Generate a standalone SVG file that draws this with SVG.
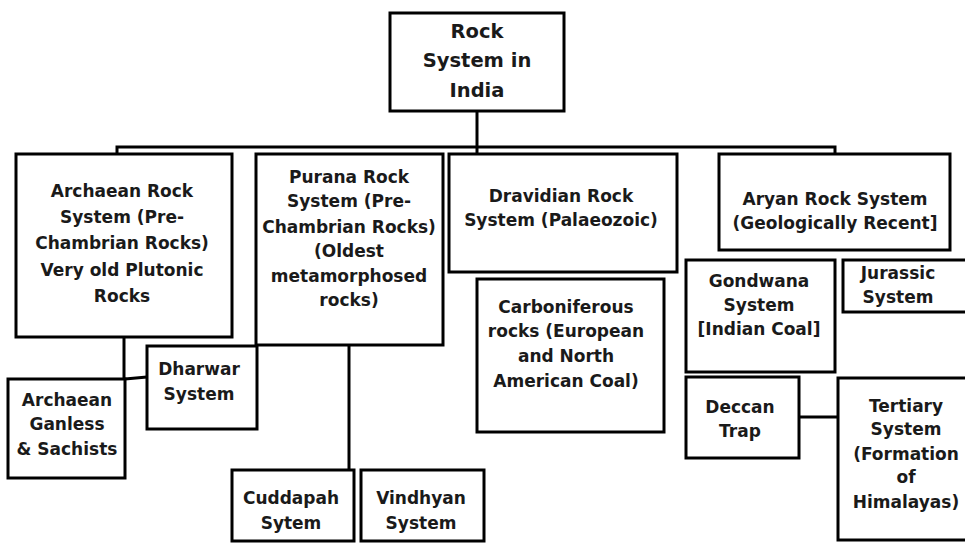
<svg xmlns="http://www.w3.org/2000/svg" width="965" height="543" viewBox="0 0 965 543">
<style>
rect{fill:#fff;stroke:#000;stroke-width:3}
.c line,.c polyline{stroke:#000;stroke-width:3;fill:none}
text{font-family:"DejaVu Sans","Liberation Sans",sans-serif;font-weight:bold;font-size:17px;fill:#1a1a1a;text-anchor:middle}
.r text{font-size:19.5px}
</style>
<rect x="0" y="0" width="965" height="543" style="stroke:none"/>
<g class="c" id="connectors">
<line x1="477" y1="111" x2="477" y2="154"/>
<polyline points="117,154 117,147 835,147 835,154"/>
<line x1="124" y1="337" x2="124" y2="478"/>
<line x1="125" y1="379" x2="147" y2="377"/>
<line x1="349" y1="345" x2="349" y2="470"/>
<line x1="799" y1="417" x2="838" y2="417"/>
</g>
<g id="root" class="r"><rect x="390" y="13" width="174" height="98"/>
<text x="477" y="38">Rock</text><text x="477" y="67">System in</text><text x="477" y="97">India</text></g>
<g id="archaean"><rect x="16" y="154" width="216" height="183"/>
<text x="122" y="197">Archaean Rock</text><text x="122" y="223">System (Pre-</text><text x="122" y="249">Chambrian Rocks)</text><text x="122" y="276">Very old Plutonic</text><text x="122" y="302">Rocks</text></g>
<g id="purana"><rect x="256" y="154" width="187" height="191"/>
<text x="349" y="183">Purana Rock</text><text x="349" y="207">System (Pre-</text><text x="349" y="233">Chambrian Rocks)</text><text x="349" y="257">(Oldest</text><text x="349" y="282">metamorphosed</text><text x="349" y="306">rocks)</text></g>
<g id="dravidian"><rect x="449" y="154" width="228" height="118"/>
<text x="561" y="202">Dravidian Rock</text><text x="561" y="226">System (Palaeozoic)</text></g>
<g id="aryan"><rect x="719" y="154" width="231" height="96"/>
<text x="835" y="205">Aryan Rock System</text><text x="835" y="229">(Geologically Recent]</text></g>
<g id="gondwana"><rect x="686" y="260" width="149" height="112"/>
<text x="759" y="287">Gondwana</text><text x="759" y="311">System</text><text x="759" y="335">[Indian Coal]</text></g>
<g id="jurassic"><rect x="843" y="260" width="130" height="52"/>
<text x="898" y="279">Jurassic</text><text x="898" y="303">System</text></g>
<g id="carboniferous"><rect x="477" y="279" width="187" height="153"/>
<text x="566" y="313">Carboniferous</text><text x="566" y="337">rocks (European</text><text x="566" y="362">and North</text><text x="566" y="387">American Coal)</text></g>
<g id="deccan"><rect x="686" y="377" width="113" height="81"/>
<text x="740" y="413">Deccan</text><text x="740" y="437">Trap</text></g>
<g id="tertiary"><rect x="838" y="378" width="135" height="162"/>
<text x="906" y="412">Tertiary</text><text x="906" y="435">System</text><text x="906" y="460">(Formation</text><text x="906" y="483">of</text><text x="906" y="508">Himalayas)</text></g>
<g id="dharwar"><rect x="147" y="346" width="110" height="83"/>
<text x="199" y="375">Dharwar</text><text x="199" y="400">System</text></g>
<g id="ganless"><rect x="8" y="379" width="117" height="99"/>
<text x="67" y="406">Archaean</text><text x="67" y="430">Ganless</text><text x="67" y="455">&amp; Sachists</text></g>
<g id="cuddapah"><rect x="232" y="470" width="122" height="71"/>
<text x="291" y="504">Cuddapah</text><text x="291" y="529">Sytem</text></g>
<g id="vindhyan"><rect x="361" y="470" width="123" height="71"/>
<text x="421" y="504">Vindhyan</text><text x="421" y="529">System</text></g>
</svg>
